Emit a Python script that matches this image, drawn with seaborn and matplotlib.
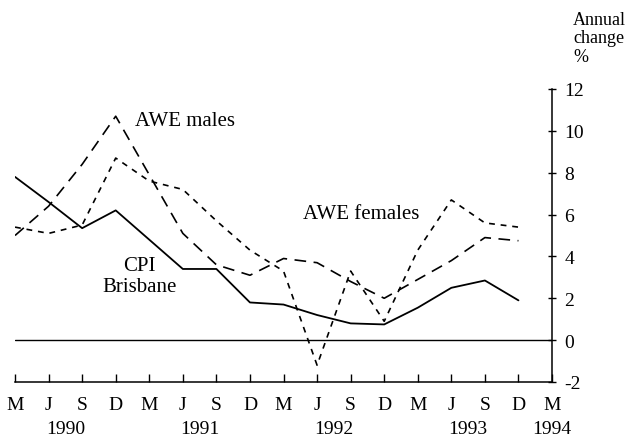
import matplotlib
matplotlib.use("Agg")
import matplotlib.pyplot as plt
import seaborn as sns
import pandas as pd
import numpy as np

# ---- data ----
tick_labels = ["M", "J", "S", "D", "M", "J", "S", "D", "M", "J", "S", "D",
               "M", "J", "S", "D", "M"]
years = ["1990", "1991", "1992", "1993", "1994"]
year_pos = [1.5, 5.5, 9.5, 13.5, 16]
cpi_brisbane = [7.8, 6.6, 5.35, 6.2, 4.8, 3.4, 3.4, 1.8, 1.7, 1.2, 0.8, 0.75,
                1.55, 2.5, 2.85, 1.9]
awe_males = [5.0, 6.4, 8.4, 10.7, 7.9, 5.1, 3.6, 3.1, 3.9, 3.7, 2.8, 2.0,
             2.9, 3.8, 4.9, 4.75]
awe_females = [5.4, 5.1, 5.5, 8.7, 7.6, 7.2, 5.7, 4.3, 3.3, -1.2, 3.3, 0.9,
               4.3, 6.7, 5.6, 5.4]

q = np.arange(len(cpi_brisbane))
df = pd.DataFrame({"q": q, "cpi": cpi_brisbane, "males": awe_males,
                   "females": awe_females})

sns.set_theme(style="white")
plt.rcParams["font.family"] = ["Liberation Serif", "DejaVu Serif"]

fig = plt.figure(figsize=(6.34, 4.39), dpi=100)
ax = fig.add_axes([0.0237, 0.1276, 0.8470, 0.6674])

sns.lineplot(data=df, x="q", y="cpi", ax=ax, color="black", lw=1.3,
             linestyle="-")
sns.lineplot(data=df, x="q", y="males", ax=ax, color="black", lw=1.2,
             linestyle=(0, (7, 4.5)))
sns.lineplot(data=df, x="q", y="females", ax=ax, color="black", lw=1.2,
             linestyle=(0, (3.5, 3.5)))

ax.axhline(0, color="black", lw=1.0)

ax.set_xlim(0, 16)
ax.set_ylim(-2, 12)
ax.set_xlabel("")
ax.set_ylabel("")

ax.set_xticks(np.arange(len(tick_labels)))
ax.set_xticklabels(tick_labels, fontsize=14)
ax.yaxis.tick_right()
ax.set_yticks(np.arange(-2, 13, 2))
ax.set_yticklabels([str(v) for v in range(-2, 13, 2)], fontsize=14)
ax.tick_params(axis="x", direction="in", length=6, width=1, pad=10,
               colors="black", bottom=True)
ax.tick_params(axis="y", direction="inout", length=6, width=1, pad=6,
               colors="black", right=True, left=False)

for s in ["left", "top"]:
    ax.spines[s].set_visible(False)
for s in ["right", "bottom"]:
    ax.spines[s].set_visible(True)
    ax.spines[s].set_color("black")
    ax.spines[s].set_linewidth(1.1)

trans = ax.get_xaxis_transform()
for yr, pos in zip(years, year_pos):
    ax.text(pos, -0.16, yr, transform=trans, ha="center", va="center",
            fontsize=14, color="black")

ax.text(3.58, 10.5, "AWE males", ha="left", va="center", fontsize=15,
        color="black")
ax.text(8.58, 6.05, "AWE females", ha="left", va="center", fontsize=15,
        color="black")
ax.text(3.7, 3.07, "CPI\nBrisbane", ha="center", va="center", fontsize=15,
        color="black", linespacing=1.15)

fig.text(573 / 634, 1 - 12 / 439, "Annual\nchange\n%", ha="left", va="top",
         fontsize=13, linespacing=1.1, color="black")

fig.savefig("out.png", dpi=100, facecolor="white")
